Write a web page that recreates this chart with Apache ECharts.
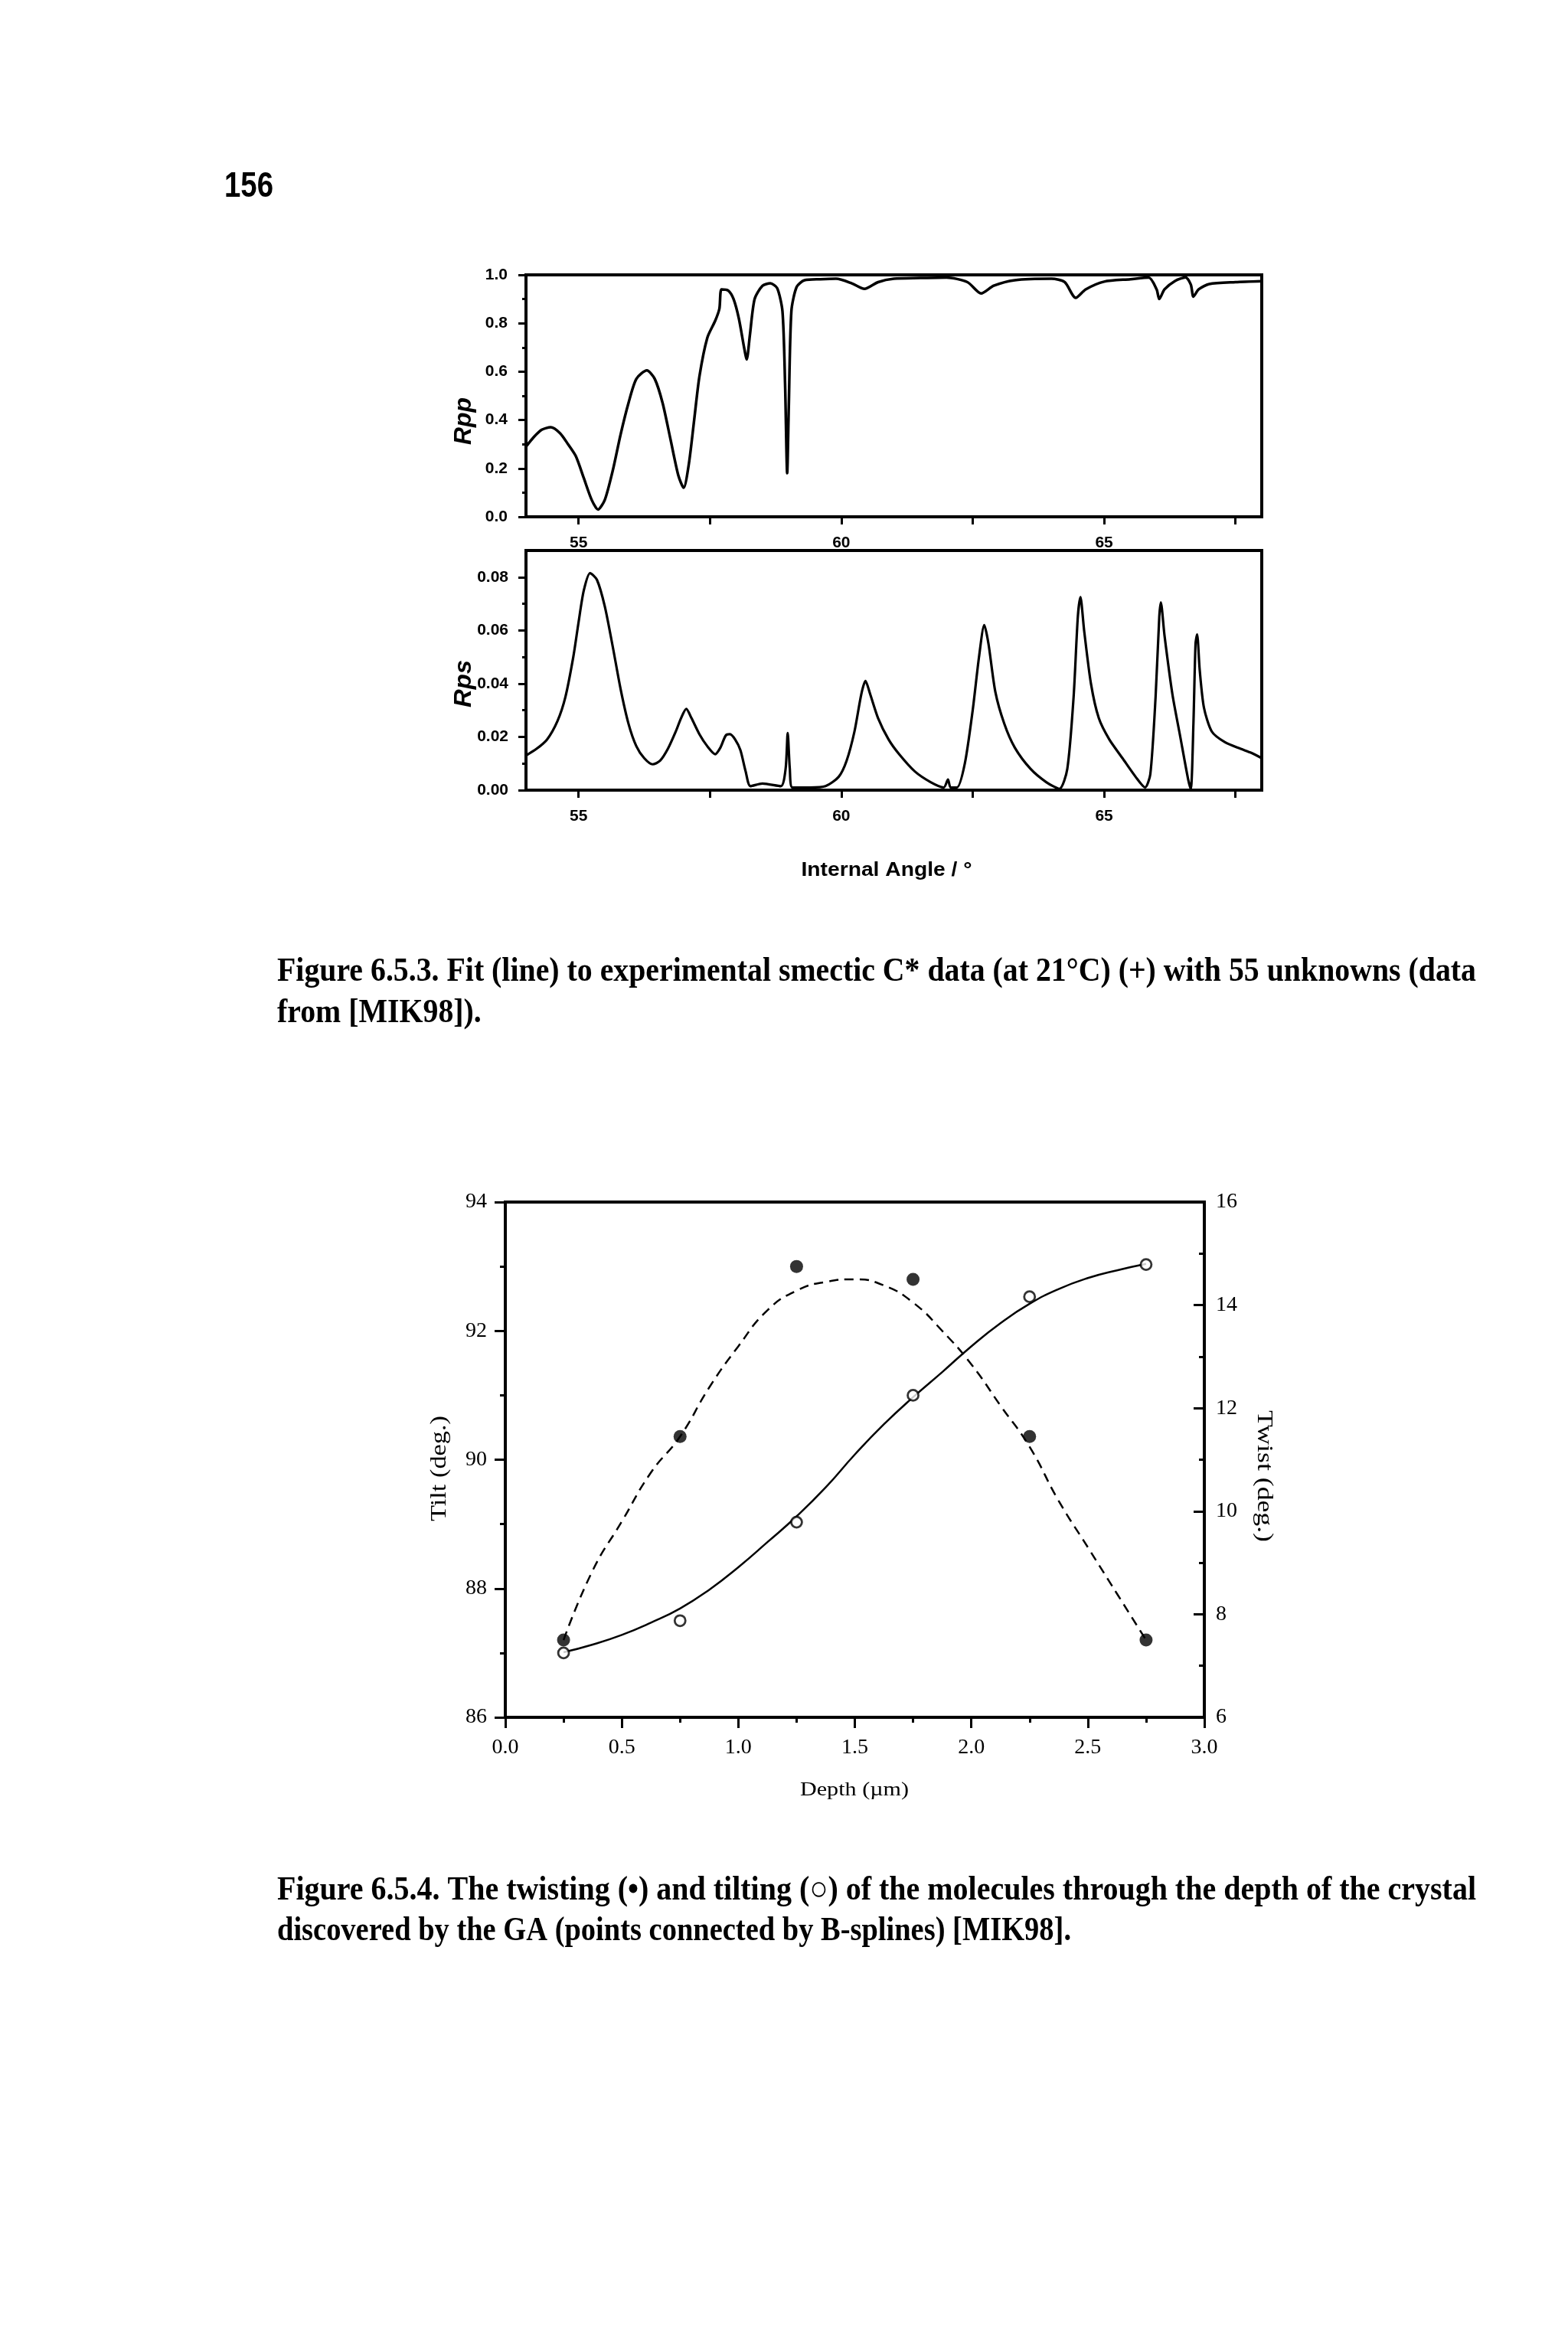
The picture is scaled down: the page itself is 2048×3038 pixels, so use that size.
<!DOCTYPE html>
<html>
<head>
<meta charset="utf-8">
<script src="https://cdn.jsdelivr.net/npm/echarts@6/dist/echarts.min.js"></script>
<style>
html,body{margin:0;padding:0;background:#fff;}
#c{width:2048px;height:3038px;}
</style>
</head>
<body>
<div id="c"></div>
<script>
// ---------- Figure 6.5.3 data ----------
const rppAngle = [54.0,54.15,54.3,54.47,54.65,54.8,54.95,55.1,55.25,55.37,55.5,55.65,55.8,55.95,56.1,56.3,56.45,56.6,56.75,56.9,57.0,57.1,57.2,57.3,57.45,57.6,57.68,57.72,57.85,57.95,58.05,58.15,58.2,58.26,58.35,58.5,58.65,58.78,58.88,58.93,58.97,59.0,59.05,59.15,59.3,59.6,59.9,60.2,60.44,60.7,61.0,61.5,62.0,62.4,62.66,62.9,63.3,64.0,64.25,64.46,64.65,65.0,65.5,65.85,66.0,66.05,66.15,66.35,66.55,66.65,66.7,66.8,67.0,67.5,68.0];
const rppValue = [0.29,0.33,0.36,0.37,0.345,0.30,0.25,0.16,0.07,0.03,0.07,0.19,0.34,0.47,0.57,0.605,0.57,0.47,0.32,0.17,0.12,0.22,0.40,0.58,0.74,0.81,0.86,0.94,0.935,0.90,0.82,0.70,0.65,0.75,0.90,0.955,0.965,0.945,0.85,0.55,0.18,0.45,0.85,0.95,0.978,0.982,0.984,0.965,0.942,0.97,0.984,0.987,0.989,0.97,0.923,0.955,0.978,0.984,0.97,0.905,0.94,0.972,0.982,0.989,0.94,0.90,0.94,0.975,0.99,0.96,0.91,0.94,0.962,0.97,0.974];

const rpsAngle = [54.0,54.2,54.4,54.6,54.75,54.9,55.0,55.1,55.22,55.35,55.5,55.65,55.8,55.95,56.1,56.25,56.41,56.55,56.7,56.85,56.95,57.05,57.15,57.3,57.45,57.6,57.7,57.8,57.88,57.98,58.08,58.18,58.27,58.5,58.85,58.94,58.98,59.02,59.07,59.4,59.7,59.95,60.1,60.25,60.38,60.46,60.55,60.7,60.9,61.1,61.4,61.7,61.95,62.03,62.08,62.2,62.35,62.5,62.62,62.72,62.8,62.93,63.1,63.3,63.6,63.9,64.15,64.3,64.42,64.5,64.55,64.62,64.75,64.9,65.1,65.35,65.6,65.78,65.88,65.98,66.05,66.08,66.15,66.3,66.45,66.6,66.65,66.7,66.74,66.77,66.82,66.9,67.05,67.3,67.6,67.8,68.0];
const rpsValue = [0.013,0.0155,0.019,0.026,0.035,0.050,0.063,0.075,0.0815,0.079,0.069,0.054,0.038,0.025,0.0165,0.012,0.0097,0.011,0.0155,0.022,0.027,0.0305,0.027,0.021,0.0165,0.0135,0.016,0.0205,0.021,0.019,0.015,0.007,0.0015,0.0025,0.0015,0.008,0.0215,0.008,0.001,0.001,0.0015,0.005,0.011,0.022,0.036,0.041,0.036,0.027,0.019,0.0135,0.007,0.003,0.001,0.004,0.001,0.001,0.01,0.030,0.050,0.062,0.055,0.037,0.025,0.016,0.008,0.003,0.0005,0.008,0.035,0.065,0.0725,0.060,0.040,0.027,0.019,0.012,0.005,0.001,0.006,0.035,0.065,0.0705,0.058,0.036,0.020,0.004,0.0005,0.025,0.055,0.0585,0.045,0.031,0.022,0.018,0.0155,0.014,0.012];

const angleTicks = [55,57.5,60,62.5,65,67.5];
const angleLabels = [55,60,65];
const rpsTicks = [0,0.02,0.04,0.06,0.08];
const rpsMinorTicks = [0.01,0.03,0.05,0.07];

// ---------- Figure 6.5.4 data ----------
const depth = [0.25,0.75,1.25,1.75,2.25,2.75];
const twistPts = [7.5,11.45,14.75,14.5,11.45,7.5];
const tiltPts = [87.0,87.5,89.03,91.0,92.53,93.03];

// B-spline curves
const curveX = [0.25,0.375,0.5,0.625,0.75,0.875,1.0,1.125,1.25,1.375,1.5,1.625,1.75,1.875,2.0,2.125,2.25,2.375,2.5,2.625,2.75];
const twistCurve = [7.5,8.85,9.8,10.75,11.45,12.4,13.2,13.9,14.28,14.45,14.5,14.38,14.05,13.5,12.85,12.05,11.25,10.2,9.3,8.4,7.5];
const tiltCurve = [87.01,87.13,87.28,87.47,87.69,87.98,88.33,88.72,89.12,89.57,90.08,90.55,90.97,91.36,91.76,92.12,92.42,92.65,92.82,92.94,93.04];

const zip = (a,b) => a.map((v,i)=>[v,b[i]]);

// ---------- text helpers ----------
const mctx = document.createElement('canvas').getContext('2d');
function fitScale(text, font, w){ mctx.font = font; return w / mctx.measureText(text).width; }
function txt(text, x, y, font, opts){
  opts = opts || {};
  return {
    type:'text', x:x, y:y,
    rotation: opts.rotation || 0,
    scaleX: opts.scale || (opts.width ? fitScale(text, font, opts.width) : 1),
    style:{
      text:text, font:font, fill:'#000',
      align: opts.align || 'left', textAlign: opts.align || 'left',
      verticalAlign:'middle', textVerticalAlign:'middle'
    }
  };
}

const serifCap = 'bold 44px "Liberation Serif"';
const narrow = '"Liberation Sans Narrow","Arial Narrow","Liberation Sans"';
const figSerif = '"Liberation Serif","Times New Roman",serif';
const cap1 = 'Figure 6.5.3. Fit (line) to experimental smectic C* data (at 21°C) (+) with 55 unknowns (data';
const cap2 = 'Figure 6.5.4. The twisting (•) and tilting (○) of the molecules through the depth of the crystal';
const capScale = fitScale(cap1, serifCap, 1566);

const chart = echarts.init(document.getElementById('c'), null, {renderer:'canvas'});

const blackLine = w => ({show:true, onZero:false, lineStyle:{color:'#000', width:w}});

const option = {
  animation:false,
  backgroundColor:'#fff',
  grid:[
    {left:687, top:359, width:961, height:316, show:true, borderColor:'#000', borderWidth:4},
    {left:687, top:719, width:961, height:313, show:true, borderColor:'#000', borderWidth:4},
    {left:660, top:1570, width:913, height:673, show:true, borderColor:'#000', borderWidth:4}
  ],
  xAxis:[
    {gridIndex:0, type:'value', min:54, max:68,
     axisLine:blackLine(4),
     axisTick:{show:true, customValues:angleTicks, length:10, lineStyle:{color:'#000', width:3}},
     axisLabel:{customValues:angleLabels, margin:24, color:'#000', fontSize:21, fontWeight:'bold', fontFamily:narrow},
     splitLine:{show:false}},
    {gridIndex:1, type:'value', min:54, max:68,
     axisLine:blackLine(4),
     axisTick:{show:true, customValues:angleTicks, length:10, lineStyle:{color:'#000', width:3}},
     axisLabel:{customValues:angleLabels, margin:24, color:'#000', fontSize:21, fontWeight:'bold', fontFamily:narrow},
     splitLine:{show:false}},
    {gridIndex:2, type:'value', min:0, max:3, interval:0.5,
     axisLine:blackLine(4),
     axisTick:{show:true, length:14, lineStyle:{color:'#000', width:3}},
     minorTick:{show:true, splitNumber:2, length:7, lineStyle:{color:'#000', width:3}},
     axisLabel:{margin:26, color:'#000', fontSize:28, fontFamily:figSerif, formatter:v=>v.toFixed(1)},
     splitLine:{show:false}}
  ],
  yAxis:[
    {gridIndex:0, type:'value', min:0, max:1, interval:0.2,
     axisLine:blackLine(4),
     axisTick:{show:true, length:10, lineStyle:{color:'#000', width:3}},
     minorTick:{show:true, splitNumber:2, length:5, lineStyle:{color:'#000', width:3}},
     axisLabel:{margin:24, color:'#000', fontSize:21, fontWeight:'bold', fontFamily:narrow, formatter:v=>v.toFixed(1)},
     splitLine:{show:false}},
    {gridIndex:1, type:'value', min:0, max:0.09, position:'left',
     axisLine:blackLine(4),
     axisTick:{show:true, customValues:rpsTicks, length:10, lineStyle:{color:'#000', width:3}},
     axisLabel:{customValues:rpsTicks, margin:23, color:'#000', fontSize:21, fontWeight:'bold', fontFamily:narrow, formatter:v=>v.toFixed(2)},
     splitLine:{show:false}},
    {gridIndex:1, type:'value', min:0, max:0.09, position:'left',
     axisLine:{show:false},
     axisTick:{show:true, customValues:rpsMinorTicks, length:5, lineStyle:{color:'#000', width:3}},
     axisLabel:{show:false},
     splitLine:{show:false}},
    {gridIndex:2, type:'value', min:86, max:94, interval:2, position:'left',
     axisLine:blackLine(4),
     axisTick:{show:true, length:14, lineStyle:{color:'#000', width:3}},
     minorTick:{show:true, splitNumber:2, length:7, lineStyle:{color:'#000', width:3}},
     axisLabel:{margin:24, color:'#000', fontSize:28, fontFamily:figSerif},
     splitLine:{show:false}},
    {gridIndex:2, type:'value', min:6, max:16, interval:2, position:'right',
     axisLine:blackLine(4),
     axisTick:{show:true, inside:true, length:14, lineStyle:{color:'#000', width:3}},
     minorTick:{show:true, splitNumber:2, length:7, lineStyle:{color:'#000', width:3}},
     axisLabel:{margin:15, color:'#000', fontSize:28, fontFamily:figSerif},
     splitLine:{show:false}}
  ],
  series:[
    {type:'line', xAxisIndex:0, yAxisIndex:0, data:zip(rppAngle,rppValue), showSymbol:false, smooth:0.25,
     lineStyle:{color:'#000', width:3.5}},
    {type:'line', xAxisIndex:1, yAxisIndex:1, data:zip(rpsAngle,rpsValue), showSymbol:false, smooth:0.25,
     lineStyle:{color:'#000', width:3.2}},
    {type:'line', xAxisIndex:2, yAxisIndex:4, data:zip(curveX,twistCurve), showSymbol:false, smooth:0.5,
     lineStyle:{color:'#000', width:2.5, type:[12,8]}},
    {type:'line', xAxisIndex:2, yAxisIndex:3, data:zip(curveX,tiltCurve), showSymbol:false, smooth:0.5,
     lineStyle:{color:'#000', width:2.5}},
    {type:'scatter', xAxisIndex:2, yAxisIndex:4, data:zip(depth,twistPts), symbol:'circle', symbolSize:17,
     itemStyle:{color:'#000'}, z:5},
    {type:'scatter', xAxisIndex:2, yAxisIndex:3, data:zip(depth,tiltPts), symbol:'circle', symbolSize:14,
     itemStyle:{color:'#fff', borderColor:'#000', borderWidth:2.8}, z:5}
  ],
  graphic:{elements:[
    txt('156', 293, 244, 'bold 46px "Liberation Sans"', {width:64}),
    txt('Rpp', 606, 550, 'italic bold 32px "Liberation Sans"', {rotation:Math.PI/2, align:'center', width:62}),
    txt('Rps', 606, 893, 'italic bold 32px "Liberation Sans"', {rotation:Math.PI/2, align:'center', width:62}),
    txt('Internal Angle / °', 1158, 1137, 'bold 25px "Liberation Sans"', {align:'center', width:223}),
    txt(cap1, 362, 1270, serifCap, {scale:capScale}),
    txt('from [MIK98]).', 362, 1324, serifCap, {scale:capScale}),
    txt('Tilt (deg.)', 574, 1918, '29px ' + figSerif, {rotation:Math.PI/2, align:'center', width:138}),
    txt('Twist (deg.)', 1651, 1928, '29px ' + figSerif, {rotation:-Math.PI/2, align:'center', width:172}),
    txt('Depth (µm)', 1116, 2338, '26px ' + figSerif, {align:'center', width:142}),
    txt(cap2, 362, 2470, serifCap, {width:1566}),
    txt('discovered by the GA (points connected by B-splines) [MIK98].', 362, 2523, serifCap, {width:1037})
  ]}
};
chart.setOption(option);
</script>
</body>
</html>
